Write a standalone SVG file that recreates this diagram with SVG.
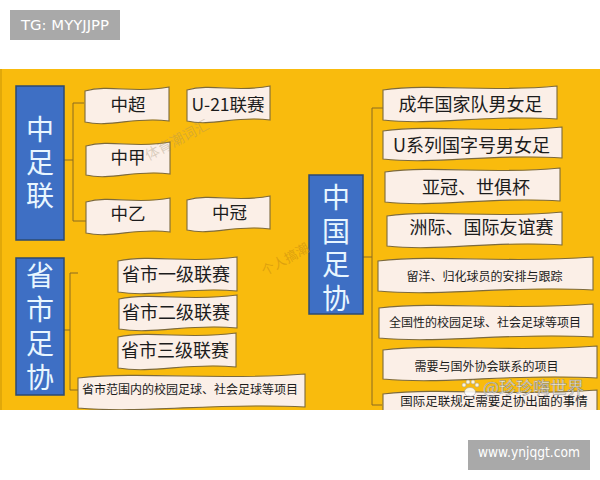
<svg xmlns="http://www.w3.org/2000/svg" width="600" height="480" viewBox="0 0 600 480">
<defs>
<style>
.rib{fill:#FBEFE7;stroke:#7d6a3c;stroke-width:1.1}
.blue{fill:#3E6FC4;stroke:#2C4A72;stroke-width:1.5}
.bt{font-family:"Noto Sans CJK SC","Noto Sans",sans-serif;font-size:28px;fill:#E8F6FF;text-anchor:middle;writing-mode:vertical-rl}
.t{font-family:"Noto Sans CJK SC","Noto Sans",sans-serif;fill:#1c1c1c;text-anchor:middle;font-size:18px}
.m{font-size:17.5px}
.s{font-size:12px}
.con{fill:none;stroke:#8a6a22;stroke-width:1}
.lab{font-family:"DejaVu Sans","Liberation Sans",sans-serif;font-size:14px;fill:#ffffff}
.wm{font-family:"Noto Sans CJK SC",sans-serif;text-anchor:middle}
</style>
<clipPath id="panel"><rect x="0" y="69" width="600" height="341"/></clipPath>
</defs>
<rect x="0" y="0" width="600" height="480" fill="#ffffff"/>
<g id="label-top">
<rect x="10" y="10" width="110" height="30" fill="#A9A9A9"/>
<text class="lab" x="21" y="30" textLength="88" lengthAdjust="spacingAndGlyphs">TG: MYYJJPP</text>
</g>
<g id="panel-bg">
<rect x="0" y="69" width="600" height="341" fill="#F9BB0D"/>
<line x1="1" y1="69" x2="1" y2="410" stroke="#D9A20A" stroke-width="1.5"/>
</g>
<g clip-path="url(#panel)">
<g id="connectors">
<path class="con" d="M84 103 H73 V221 H86 M64 160 H73"/>
<path class="con" d="M78 273 H70 V390 H78 M64 330 H70"/>
<path class="con" d="M383 108 H372 V405 H382 M363 257 H372"/>
</g>
<g id="n-zzl"><rect class="blue" x="16" y="86" width="48" height="154"/>
<text class="bt" x="40" y="165" letter-spacing="5">中足联</text></g>
<g id="n-ssz"><rect class="blue" x="16" y="258" width="48" height="137"/>
<text class="bt" x="40" y="329.5" letter-spacing="6">省市足协</text></g>
<g id="n-zgz"><rect class="blue" x="309" y="175" width="54" height="139"/>
<text class="bt" x="336" y="250.5" letter-spacing="5.5">中国足协</text></g>

<g id="n-zc"><path class="rib" d="M85 91 C110.2 84 135.4 94 169 87 L169 121 C135.4 116 110.2 128 85 122 Z"/><text class="t m" x="128" y="111">中超</text></g>
<g id="n-u21"><path class="rib" d="M187 90 C211.9 83 236.8 93 270 86 L270 120 C236.8 115 211.9 127 187 121 Z"/><text class="t m" x="228" y="111">U-21联赛</text></g>
<g id="n-zj"><path class="rib" d="M86 146 C111.2 139 136.4 149 170 142 L170 174 C136.4 169 111.2 181 86 175 Z"/><text class="t m" x="128" y="163.5">中甲</text></g>
<g id="n-zy"><path class="rib" d="M86 202 C111.2 195 136.4 205 170 198 L170 232 C136.4 227 111.2 239 86 233 Z"/><text class="t m" x="128" y="220">中乙</text></g>
<g id="n-zg"><path class="rib" d="M187 200 C211.9 193 236.8 203 270 196 L270 229 C236.8 224 211.9 236 187 230 Z"/><text class="t m" x="229.5" y="218.5">中冠</text></g>

<g id="n-s1"><path class="rib" d="M118 261 C153.7 254 189.4 264 237 257 L237 291 C189.4 286 153.7 298 118 292 Z"/><text class="t" x="176" y="281.3">省市一级联赛</text></g>
<g id="n-s2"><path class="rib" d="M119 299 C154.4 292 189.8 302 237 295 L237 328 C189.8 323 154.4 335 119 329 Z"/><text class="t" x="176" y="319.3">省市二级联赛</text></g>
<g id="n-s3"><path class="rib" d="M118 337 C153.4 330 188.8 340 236 333 L236 367 C188.8 362 153.4 374 118 368 Z"/><text class="t" x="175" y="356.8">省市三级联赛</text></g>
<g id="n-s4"><path class="rib" d="M78 378 C146.1 371 214.2 381 305 374 L305 407 C214.2 402 146.1 414 78 408 Z"/><text class="t s" x="190" y="393.5">省市范围内的校园足球、社会足球等项目</text></g>

<g id="n-r1"><path class="rib" d="M383 90 C435.2 83 487.4 93 557 86 L557 119 C487.4 114 435.2 126 383 120 Z"/><text class="t" x="470.5" y="111.3">成年国家队男女足</text></g>
<g id="n-r2"><path class="rib" d="M383 131 C436.7 124 490.4 134 562 127 L562 158 C490.4 153 436.7 165 383 159 Z"/><text class="t" x="471.5" y="152.3">U系列国字号男女足</text></g>
<g id="n-r3"><path class="rib" d="M385 172 C437.5 165 490 175 560 168 L560 201 C490 196 437.5 208 385 202 Z"/><text class="t" x="476" y="194.3">亚冠、世俱杯</text></g>
<g id="n-r4"><path class="rib" d="M387 216 C439.5 209 492 219 562 212 L562 245 C492 240 439.5 252 387 246 Z"/><text class="t" x="481.5" y="234.3">洲际、国际友谊赛</text></g>
<g id="n-r5"><path class="rib" d="M378 261 C442.5 254 507 264 593 257 L593 290 C507 285 442.5 297 378 291 Z"/><text class="t s" x="484.5" y="280.6">留洋、归化球员的安排与跟踪</text></g>
<g id="n-r6"><path class="rib" d="M379 308 C443.2 301 507.4 311 593 304 L593 337 C507.4 332 443.2 344 379 338 Z"/><text class="t s" x="485" y="327.1">全国性的校园足球、社会足球等项目</text></g>
<g id="n-r7"><path class="rib" d="M383 350 C447.2 343 511.4 353 597 346 L597 378 C511.4 373 447.2 385 383 379 Z"/><text class="t s" x="486.5" y="370.6">需要与国外协会联系的项目</text></g>
<g id="n-r8"><path class="rib" d="M383 394 C447.2 387 511.4 397 597 390 L597 427 C511.4 422 447.2 434 383 428 Z"/><text class="t" x="494" y="405.8" style="font-size:12.5px">国际足联规定需要足协出面的事情</text></g>

<g id="watermarks">
<text class="wm" x="177" y="145" font-size="14" fill="#9a8a6a" fill-opacity="0.35" transform="rotate(-28 177 140)">体育潮词汇</text>
<text class="wm" x="285" y="264" font-size="13" fill="#C98F10" fill-opacity="0.6" transform="rotate(-29 285 259)">个人搞潮</text>
<g fill="#ffffff" fill-opacity="0.85" stroke="#9a9a9a" stroke-width="0.5">
<ellipse cx="470" cy="392" rx="5.5" ry="4.5"/>
<circle cx="464" cy="385" r="2"/><circle cx="468" cy="382" r="2"/><circle cx="473" cy="382" r="2"/><circle cx="477" cy="385" r="2"/>
</g>
<text class="wm" x="533.5" y="394" font-size="17" fill="#ffffff" fill-opacity="0.8" stroke="#8a8a8a" stroke-width="0.5">@珍珍嗨世界</text>
</g>
</g>
<g id="label-bottom">
<rect x="468" y="440" width="122" height="30" fill="#A9A9A9"/>
<text class="lab" x="478" y="457" textLength="102" lengthAdjust="spacingAndGlyphs">www.ynjqgt.com</text>
</g>
</svg>
